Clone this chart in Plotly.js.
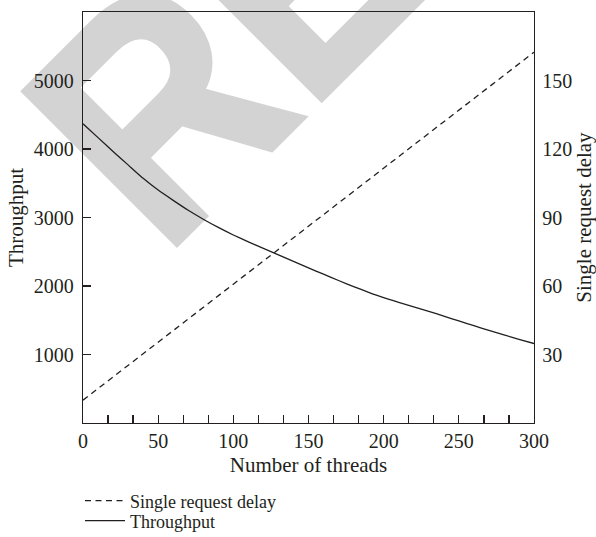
<!DOCTYPE html>
<html>
<head>
<meta charset="utf-8">
<script src="https://cdn.plot.ly/plotly-3.0.1.min.js"></script>
<style>
  html, body { margin: 0; padding: 0; background: #ffffff; }
  #wrap { position: relative; width: 596px; height: 537px; overflow: hidden; }
  #wm { position: absolute; left: 0; top: 0; z-index: 0; }
  #chart { position: absolute; left: 0; top: 0; width: 596px; height: 537px; z-index: 1; }
</style>
</head>
<body>
<div id="wrap">
  <svg id="wm" width="596" height="537">
    <text x="0" y="0" transform="translate(163.4,258.1) rotate(-45) scale(0.9,1)" font-family="Liberation Sans, Arial, sans-serif" font-weight="bold" font-size="315" fill="#d3d3d3" stroke="#d3d3d3" stroke-width="5" stroke-linejoin="miter">RETRACTED</text>
  </svg>
  <div id="chart"></div>
</div>
<script>
// Number of threads (x)
var threads = [0, 10, 20, 30, 40, 50, 60, 70, 80, 90, 100, 110, 120, 130, 140, 150,
               160, 170, 180, 190, 200, 210, 220, 230, 240, 250, 260, 270, 280, 290, 300];
// Throughput (left axis)
var throughput = [4368, 4166, 3965, 3768, 3572, 3400, 3250, 3105, 2975, 2855, 2745, 2645,
                  2550, 2455, 2360, 2265, 2172, 2080, 1992, 1908, 1830, 1762, 1697, 1630,
                  1560, 1490, 1420, 1352, 1286, 1222, 1160];
// Single request delay (right axis)
var delayThreads = [0, 50, 100, 150, 200, 250, 300];
var delay = [10, 35.4, 60.8, 86.2, 111.6, 137, 162.4];

var xTicks = [0, 50, 100, 150, 200, 250, 300];
var yTicks = [1000, 2000, 3000, 4000, 5000];
var y2Ticks = [30, 60, 90, 120, 150];

var ink = '#231f20';
var fontFam = 'Liberation Serif, Times New Roman, serif';

var traces = [
  {
    x: delayThreads, y: delay, yaxis: 'y2', type: 'scatter', mode: 'lines',
    name: 'Single request delay', legend: 'legend',
    line: { color: ink, width: 1.3, dash: '6px,4.5px' }
  },
  {
    x: threads, y: throughput, yaxis: 'y', type: 'scatter', mode: 'lines',
    name: 'Throughput', legend: 'legend2',
    line: { color: ink, width: 1.3, shape: 'spline', smoothing: 0.5 }
  }
];

var legendBase = {
  orientation: 'v', xanchor: 'left', yanchor: 'middle',
  bgcolor: 'rgba(0,0,0,0)', borderwidth: 0, itemwidth: 40,
  font: { family: fontFam, size: 18, color: ink }
};

var layout = {
  width: 596, height: 537,
  margin: { l: 83, r: 62, t: 12, b: 114, autoexpand: false },
  paper_bgcolor: 'rgba(0,0,0,0)',
  plot_bgcolor: 'rgba(0,0,0,0)',
  font: { family: fontFam, size: 20, color: ink },
  showlegend: true,
  legend: Object.assign({}, legendBase, { x: -0.0066, y: -0.1898 }),
  legend2: Object.assign({}, legendBase, { x: -0.0066, y: -0.2384 }),
  xaxis: {
    range: [0, 300], tickvals: xTicks, ticks: 'inside', ticklen: 8, tickcolor: ink, tickwidth: 1.3,
    showline: true, linecolor: ink, linewidth: 1.3, mirror: true,
    showgrid: false, zeroline: false,
    minor: { dtick: 50 / 3, ticks: 'inside', ticklen: 8, tickcolor: ink, tickwidth: 1.3, showgrid: false },
    title: { text: 'Number of threads', standoff: 6, font: { family: fontFam, size: 21, color: ink } }
  },
  yaxis: {
    range: [0, 6000], tickvals: yTicks, ticks: 'inside', ticklen: 8, tickcolor: ink, tickwidth: 1.3,
    ticklabelstandoff: 4,
    showline: true, linecolor: ink, linewidth: 1.3,
    showgrid: false, zeroline: false,
    title: { text: 'Throughput', standoff: 4, font: { family: fontFam, size: 21, color: ink } }
  },
  yaxis2: {
    overlaying: 'y', side: 'right', range: [0, 180], tickvals: y2Ticks, ticks: '',
    ticklabelstandoff: 3,
    showline: true, linecolor: ink, linewidth: 1.3,
    showgrid: false, zeroline: false,
    title: { text: 'Single request delay', standoff: 8, font: { family: fontFam, size: 21, color: ink } }
  }
};

Plotly.newPlot('chart', traces, layout, { displayModeBar: false, staticPlot: true });
</script>
</body>
</html>
